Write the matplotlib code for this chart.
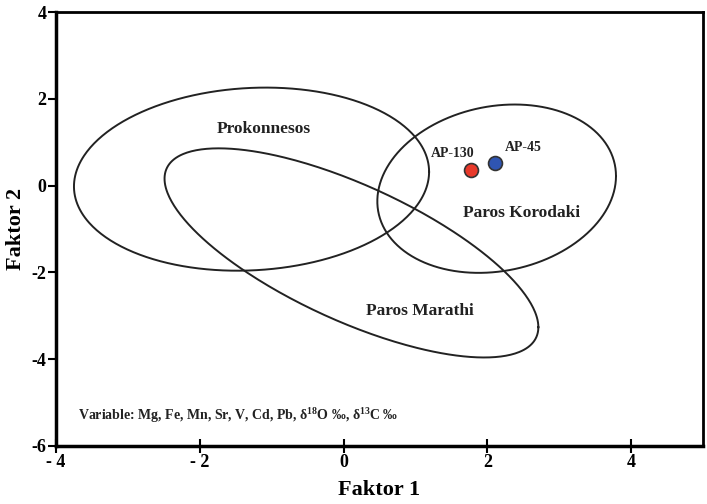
import numpy as np
import matplotlib.pyplot as plt

plt.rcParams['font.family'] = ['Liberation Serif', 'DejaVu Serif']
plt.rcParams['axes.unicode_minus'] = False
plt.rcParams['mathtext.fontset'] = 'custom'
plt.rcParams['mathtext.bf'] = 'Liberation Serif:bold'
plt.rcParams['mathtext.rm'] = 'Liberation Serif:bold'
plt.rcParams['mathtext.default'] = 'bf'

# group ellipses: centre, half ranges along x / y, correlation
groups = ['Prokonnesos', 'Paros Marathi', 'Paros Korodaki']
cx = [-1.28, 0.11, 2.13]
cy = [0.15, -1.55, -0.07]
sx = [2.47, 2.60, 1.66]
sy = [2.11, 2.41, 1.94]
corr = [0.08, -0.71, 0.15]
label_x = [-1.11, 1.06, 2.47]
label_y = [1.31, -2.9, -0.62]

# samples
samples = ['AP-130', 'AP-45']
f1 = [1.78, 2.11]
f2 = [0.37, 0.53]
colors = ['#e8392a', '#2f55b2']
samp_lx = [1.21, 2.25]
samp_ly = [0.74, 0.875]

xticks = [-4, -2, 0, 2, 4]
xticklabels = ['- 4', '- 2', '0', '2', '4']
yticks = [-6, -4, -2, 0, 2, 4]

fig = plt.figure(figsize=(7.07, 5.04), dpi=100)
ax = fig.add_axes([0.0792, 0.1151, 0.9151, 0.8609])

t = np.linspace(0, 2 * np.pi, 400)
for i in range(len(groups)):
    x = cx[i] + sx[i] * np.cos(t)
    y = cy[i] + sy[i] * (corr[i] * np.cos(t) + np.sqrt(1 - corr[i] ** 2) * np.sin(t))
    ax.plot(x, y, color='#222222', lw=1.4)
    ax.text(label_x[i], label_y[i], groups[i], ha='center', va='center',
            fontsize=12.5, fontweight='bold', color='#222222')

for i in range(len(samples)):
    ax.plot(f1[i], f2[i], 'o', ms=10, color=colors[i], mec='#333333', mew=1.2, zorder=3)
    ax.text(samp_lx[i], samp_ly[i], samples[i], ha='left', va='center',
            fontsize=10, fontweight='bold', color='#222222')

ax.text(-3.7, -5.3, 'Variable: Mg, Fe, Mn, Sr, V, Cd, Pb, δ$^{18}$O ‰, δ$^{13}$C ‰',
        fontsize=10, fontweight='bold', ha='left', va='center', color='#222222')

ax.set_xlim(-4, 5)
ax.set_ylim(-6, 4)
ax.set_xticks(xticks)
ax.set_xticklabels(xticklabels)
ax.set_yticks(yticks)
ax.tick_params(axis='x', direction='inout', length=10, width=1.5, labelsize=13, pad=1)
ax.tick_params(axis='y', direction='out', length=6, width=1.5, labelsize=13, pad=1)
for lab in ax.get_xticklabels() + ax.get_yticklabels():
    lab.set_fontweight('bold')
for side in ['left', 'bottom']:
    ax.spines[side].set_linewidth(2.5)
for side in ['top', 'right']:
    ax.spines[side].set_linewidth(2)

ax.set_xlabel('Faktor 1', fontsize=16, fontweight='bold', labelpad=6)
ax.set_ylabel('Faktor 2', fontsize=16, fontweight='bold')
ax.yaxis.set_label_coords(-0.047, 0.5)

fig.savefig('out.png', dpi=100)
